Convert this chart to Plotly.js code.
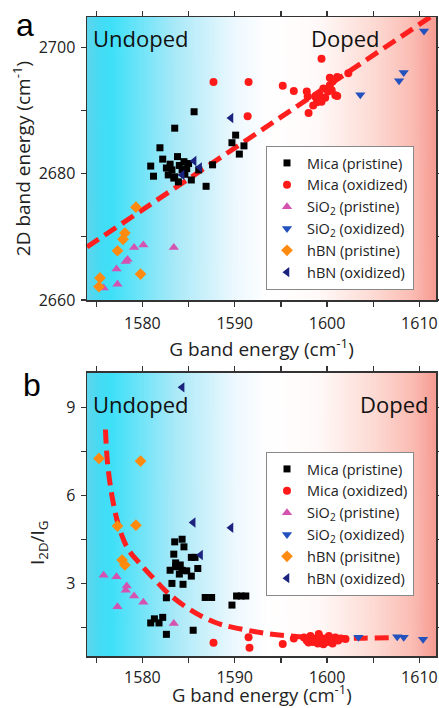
<!DOCTYPE html>
<html>
<head>
<meta charset="utf-8">
<script src="https://cdn.plot.ly/plotly-3.0.1.min.js"></script>
<style>html,body{margin:0;padding:0;background:#fff;}#chart{width:439px;height:708px;}</style>
</head>
<body>
<div id="chart"></div>
<script>
// ---------- Panel a data (2D band vs G band) ----------
const micaPristineA_x = [1585.6,1583.5,1581.9,1582.2,1580.9,1581.2,1583.8,1584.5,1582.6,1583.2,1584.3,1584.8,1583.5,1583.9,1585.3,1586.1,1587.6,1586.9,1590.1,1589.7,1591.0,1590.5,1583.4,1582.8,1584.0,1583.0,1585.0,1584.6];
const micaPristineA_y = [2689.8,2687.2,2684.1,2682.3,2681.2,2679.6,2682.7,2681.9,2680.9,2680.6,2680.6,2680.8,2679.5,2678.7,2679.0,2680.6,2681.4,2678.0,2686.1,2684.9,2684.4,2683.1,2679.3,2679.8,2681.3,2681.5,2681.6,2679.9];
const micaOxA_x = [1599.4,1591.5,1587.7,1591.4,1595.2,1596.4,1597.8,1597.9,1598.0,1598.7,1598.9,1599.2,1599.6,1600.3,1600.3,1600.5,1600.9,1600.1,1599.4,1601.1,1602.3,1601.1,1599.8,1598.5,1600.6];
const micaOxA_y = [2698.2,2694.5,2694.5,2689.1,2693.9,2693.1,2693.0,2692.2,2689.6,2692.2,2691.3,2692.4,2693.5,2695.2,2694.0,2693.2,2692.4,2693.0,2691.4,2695.3,2695.9,2692.3,2692.0,2690.8,2694.6];
const sio2PristineA_x = [1579.1,1580.1,1583.4,1578.4,1578.2,1577.2,1577.3,1575.8];
const sio2PristineA_y = [2668.3,2668.7,2668.3,2666.4,2666.1,2664.9,2662.5,2661.9];
const sio2OxA_x = [1610.5,1608.3,1607.8,1603.6];
const sio2OxA_y = [2702.6,2696.0,2694.7,2692.5];
const hbnPristineA_x = [1579.3,1578.1,1577.9,1577.3,1579.8,1575.4,1575.3];
const hbnPristineA_y = [2674.7,2670.6,2669.6,2667.8,2664.1,2663.5,2662.1];
const hbnOxA_x = [1589.6,1585.6,1586.2,1584.3];
const hbnOxA_y = [2688.8,2682.0,2681.0,2679.8];
const fitA_x = [1574.0,1611.8];
const fitA_y = [2668.4,2705.4];

// ---------- Panel b data (I2D/IG vs G band) ----------
const micaPristineB_x = [1583.5,1584.3,1584.5,1583.4,1585.3,1585.7,1583.6,1584.1,1583.6,1583.0,1584.3,1584.8,1584.0,1585.3,1586.0,1583.2,1584.4,1582.6,1586.8,1587.5,1589.7,1590.2,1590.7,1591.2,1580.9,1581.3,1581.8,1582.2,1582.6,1585.5];
const micaPristineB_y = [4.42,4.51,4.25,4.00,3.89,3.89,3.70,3.63,3.57,3.45,3.45,3.43,3.32,3.25,3.51,3.00,2.97,2.51,2.52,2.52,2.26,2.57,2.57,2.57,1.65,1.79,1.65,1.84,1.26,1.40];
const micaOxB_x = [1587.7,1591.5,1591.6,1595.2,1596.4,1597.5,1597.8,1598.2,1598.5,1598.8,1599.0,1599.2,1599.4,1599.6,1599.8,1600.0,1600.2,1600.4,1600.6,1600.9,1601.2,1601.5,1602.0,1598.0,1599.1];
const micaOxB_y = [0.97,1.16,0.80,0.93,1.12,1.15,1.05,1.20,1.00,1.10,0.95,1.18,1.05,0.92,1.12,1.00,1.20,1.08,0.95,1.15,1.05,1.12,1.10,0.98,1.27];
const sio2PristineB_x = [1575.8,1577.2,1578.3,1578.2,1579.1,1580.1,1577.3,1583.4];
const sio2PristineB_y = [3.28,3.23,2.91,2.77,2.57,2.36,2.20,1.63];
const sio2OxB_x = [1603.4,1607.6,1608.3,1610.4];
const sio2OxB_y = [1.16,1.18,1.16,1.09];
const hbnPristineB_x = [1575.3,1579.8,1577.3,1579.3,1577.8,1578.1];
const hbnPristineB_y = [7.27,7.18,4.96,4.99,3.80,3.63];
const hbnOxB_x = [1584.3,1585.5,1589.6,1586.3];
const hbnOxB_y = [9.70,5.08,4.90,3.97];
const fitB_x = [1576.0,1576.2,1576.7,1577.4,1578.4,1579.9,1581.4,1582.8,1584.6,1586.4,1588.2,1589.8,1593.4,1597.0,1600.6,1604.0,1607.5];
const fitB_y = [8.26,7.20,6.00,5.00,4.20,3.62,3.11,2.66,2.22,1.88,1.63,1.50,1.29,1.18,1.14,1.13,1.15];

// ---------- Labels ----------
const namesA = ['Mica (pristine)','Mica (oxidized)','SiO<sub>2</sub> (pristine)','SiO<sub>2</sub> (oxidized)','hBN (pristine)','hBN (oxidized)'];
const namesB = ['Mica (pristine)','Mica (oxidized)','SiO<sub>2</sub> (pristine)','SiO<sub>2</sub> (oxidized)','hBN (prisitne)','hBN (oxidized)'];
const xTitle = 'G band energy (cm<sup>-1</sup>)';
const yTitleA = '2D band energy (cm<sup>-1</sup>)';
const yTitleB = 'I<sub>2D</sub>/I<sub>G</sub>';

const FONT = 'Open Sans, sans-serif';
const styles = [
  {symbol:'square', color:'#000000', size:7},
  {symbol:'circle', color:'#ff1a1a', size:8},
  {symbol:'triangle-up', color:'#d452b0', size:9},
  {symbol:'triangle-down', color:'#2352bf', size:9},
  {symbol:'diamond', color:'#ff8a10', size:9},
  {symbol:'triangle-left', color:'#1b237e', size:9}
];

function mk(x, y, i, names, xa, ya, leg){
  return {x:x, y:y, type:'scatter', mode:'markers', name:names[i], xaxis:xa, yaxis:ya, legend:leg,
    marker:{symbol:styles[i].symbol, color:styles[i].color, size:styles[i].size, line:{width:0}}};
}

const fitStyle = {color:'#ff1f1f', width:5, dash:'14px,7px'};
const traces = [
  {x:fitA_x, y:fitA_y, type:'scatter', mode:'lines', line:fitStyle, showlegend:false, xaxis:'x', yaxis:'y', hoverinfo:'skip'},
  mk(micaPristineA_x, micaPristineA_y, 0, namesA, 'x', 'y', 'legend'),
  mk(micaOxA_x, micaOxA_y, 1, namesA, 'x', 'y', 'legend'),
  mk(sio2PristineA_x, sio2PristineA_y, 2, namesA, 'x', 'y', 'legend'),
  mk(sio2OxA_x, sio2OxA_y, 3, namesA, 'x', 'y', 'legend'),
  mk(hbnPristineA_x, hbnPristineA_y, 4, namesA, 'x', 'y', 'legend'),
  mk(hbnOxA_x, hbnOxA_y, 5, namesA, 'x', 'y', 'legend'),
  {x:fitB_x, y:fitB_y, type:'scatter', mode:'lines', line:Object.assign({shape:'spline'}, fitStyle), showlegend:false, xaxis:'x2', yaxis:'y2', hoverinfo:'skip'},
  mk(micaPristineB_x, micaPristineB_y, 0, namesB, 'x2', 'y2', 'legend2'),
  mk(micaOxB_x, micaOxB_y, 1, namesB, 'x2', 'y2', 'legend2'),
  mk(sio2PristineB_x, sio2PristineB_y, 2, namesB, 'x2', 'y2', 'legend2'),
  mk(sio2OxB_x, sio2OxB_y, 3, namesB, 'x2', 'y2', 'legend2'),
  mk(hbnPristineB_x, hbnPristineB_y, 4, namesB, 'x2', 'y2', 'legend2'),
  mk(hbnOxB_x, hbnOxB_y, 5, namesB, 'x2', 'y2', 'legend2')
];

// background gradient (Undoped -> Doped)
function gradientURL(){
  const c = document.createElement('canvas');
  c.width = 400; c.height = 4;
  const g = c.getContext('2d');
  const lg = g.createLinearGradient(0,0,400,0);
  lg.addColorStop(0.00,'#5ed5ec');
  lg.addColorStop(0.035,'#46dbf4');
  lg.addColorStop(0.07,'#3ee0f8');
  lg.addColorStop(0.25,'#a8e9f8');
  lg.addColorStop(0.42,'#ecf8fe');
  lg.addColorStop(0.52,'#ffffff');
  lg.addColorStop(0.66,'#fffaf9');
  lg.addColorStop(0.82,'#fddbd4');
  lg.addColorStop(0.93,'#fbbdb4');
  lg.addColorStop(1.00,'#f69b92');
  g.fillStyle = lg; g.fillRect(0,0,400,4);
  return c.toDataURL();
}
const bg = gradientURL();

const W = 439, H = 708;
const px = v => v / W;
const py = v => 1 - v / H;

const xCommon = {
  range:[1574.0,1611.8], dtick:10, tick0:1580, ticks:'outside', ticklen:5, tickwidth:1.3, tickcolor:'#333',
  minor:{dtick:5, tick0:1575, ticks:'outside', ticklen:5, tickwidth:1.3, tickcolor:'#333', showgrid:false},
  showline:true, linecolor:'#333', linewidth:1.5, mirror:'ticks', showgrid:false, zeroline:false,
  ticklabelstandoff:3,
  tickfont:{family:FONT, size:16, color:'#222'}, domain:[px(87), px(436)]
};
const yCommon = {
  ticks:'outside', ticklen:5, tickwidth:1.3, tickcolor:'#333',
  showline:true, linecolor:'#333', linewidth:1.5, mirror:'ticks', showgrid:false, zeroline:false,
  ticklabelstandoff:2,
  tickfont:{family:FONT, size:16, color:'#222'}
};

const layout = {
  width:W, height:H, margin:{l:0, r:0, t:0, b:0},
  paper_bgcolor:'#ffffff', plot_bgcolor:'rgba(0,0,0,0)',
  font:{family:FONT, color:'#222'},
  xaxis: Object.assign({}, xCommon, {anchor:'y',
    title:{text:xTitle, font:{family:FONT, size:19, color:'#222'}, standoff:5}}),
  yaxis: Object.assign({}, yCommon, {anchor:'x', range:[2660,2704.8], dtick:20, tick0:2660,
    minor:{dtick:10, ticks:'outside', ticklen:5, tickwidth:1.3, tickcolor:'#333', showgrid:false},
    domain:[py(300), py(17)],
    title:{text:yTitleA, font:{family:FONT, size:19, color:'#222'}, standoff:3}}),
  xaxis2: Object.assign({}, xCommon, {anchor:'y2', ticklabelstandoff:1}),
  yaxis2: Object.assign({}, yCommon, {anchor:'x2', range:[0.52,10.2], dtick:3, tick0:0,
    minor:{dtick:1.5, ticks:'outside', ticklen:5, tickwidth:1.3, tickcolor:'#333', showgrid:false},
    domain:[py(656), py(372.7)]}),
  legend:{x:px(266), y:py(146), xanchor:'left', yanchor:'top', bgcolor:'#ffffff', bordercolor:'#888', borderwidth:1,
    font:{family:FONT, size:14.5, color:'#222'}, tracegroupgap:0, itemwidth:30},
  legend2:{x:px(266), y:py(452), xanchor:'left', yanchor:'top', bgcolor:'#ffffff', bordercolor:'#888', borderwidth:1,
    font:{family:FONT, size:14.5, color:'#222'}, tracegroupgap:0, itemwidth:30},
  images:[
    {source:bg, xref:'x domain', yref:'y domain', x:0, y:1, sizex:1, sizey:1, sizing:'stretch', xanchor:'left', yanchor:'top', layer:'below'},
    {source:bg, xref:'x2 domain', yref:'y2 domain', x:0, y:1, sizex:1, sizey:1, sizing:'stretch', xanchor:'left', yanchor:'top', layer:'below'}
  ],
  annotations:[
    {text:xTitle, xref:'paper', yref:'paper', x:px(262), y:0, xanchor:'center', yanchor:'bottom', yshift:-1, showarrow:false, font:{family:FONT, size:18.5, color:'#222'}},
    {text:yTitleB, xref:'paper', yref:'paper', x:px(38), y:py(543), xanchor:'center', yanchor:'middle', textangle:-90, showarrow:false, font:{family:FONT, size:19, color:'#222'}},
    {text:'a', xref:'paper', yref:'paper', x:px(14), y:py(25), xanchor:'left', yanchor:'middle', showarrow:false, font:{family:'Arial, sans-serif', size:32, color:'#000'}},
    {text:'b', xref:'paper', yref:'paper', x:px(21), y:py(385), xanchor:'left', yanchor:'middle', showarrow:false, font:{family:'Arial, sans-serif', size:32, color:'#000'}},
    {text:'Undoped', xref:'paper', yref:'paper', x:px(91), y:py(38), xanchor:'left', yanchor:'middle', showarrow:false, font:{family:FONT, size:22, color:'#111'}},
    {text:'Doped', xref:'paper', yref:'paper', x:px(381), y:py(38), xanchor:'right', yanchor:'middle', showarrow:false, font:{family:FONT, size:22, color:'#111'}},
    {text:'Undoped', xref:'paper', yref:'paper', x:px(91), y:py(404), xanchor:'left', yanchor:'middle', showarrow:false, font:{family:FONT, size:22, color:'#111'}},
    {text:'Doped', xref:'paper', yref:'paper', x:px(430), y:py(404), xanchor:'right', yanchor:'middle', showarrow:false, font:{family:FONT, size:22, color:'#111'}}
  ]
};

Plotly.newPlot('chart', traces, layout, {displayModeBar:false, staticPlot:true});
</script>
</body>
</html>
